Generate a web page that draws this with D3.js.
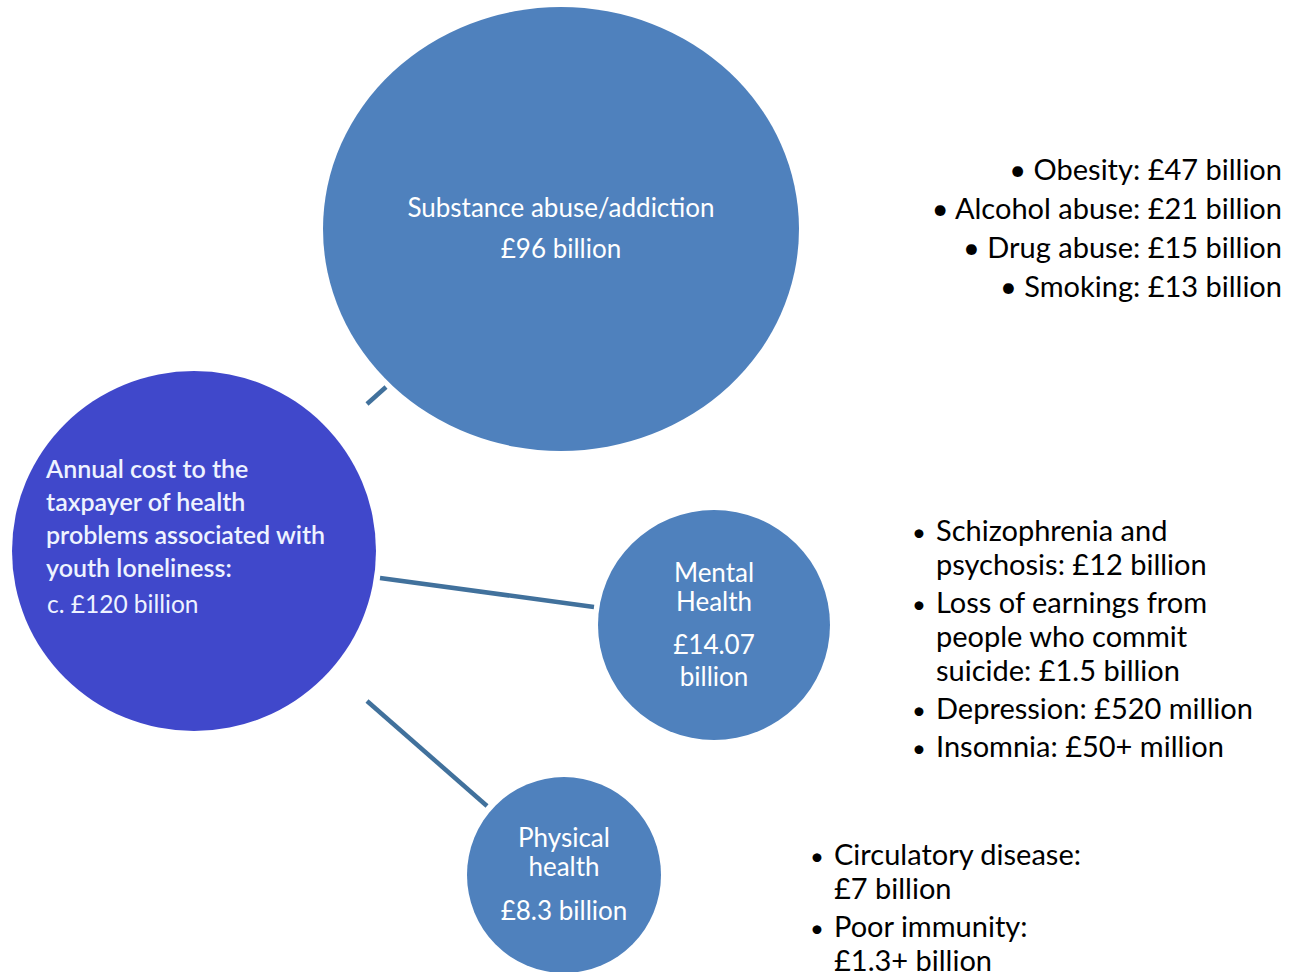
<!DOCTYPE html>
<html>
<head>
<meta charset="utf-8">
<script src="https://cdn.jsdelivr.net/npm/d3@7"></script>
<style>
  body { margin: 0; background: #fff; }
  svg { display: block; }
</style>
</head>
<body>
<svg id="chart"></svg>
<script>
// 数据
const totalLabel = ["Annual cost to the", "taxpayer of health", "problems associated with", "youth loneliness:"];
const totalValue = "c. £120 billion";

const categories = ["Substance abuse/addiction", "Mental Health", "Physical health"];
const categoryLines = [["Substance abuse/addiction"], ["Mental", "Health"], ["Physical", "health"]];
const categoryValues = [["£96 billion"], ["£14.07", "billion"], ["£8.3 billion"]];

const substanceItems = ["Obesity: £47 billion", "Alcohol abuse: £21 billion", "Drug abuse: £15 billion", "Smoking: £13 billion"];
const mentalItems = [["Schizophrenia and", "psychosis: £12 billion"], ["Loss of earnings from", "people who commit", "suicide: £1.5 billion"], ["Depression: £520 million"], ["Insomnia: £50+ million"]];
const physicalItems = [["Circulatory disease:", "£7 billion"], ["Poor immunity:", "£1.3+ billion"]];

// 布局
const width = 1296, height = 972;
const font = "'Lato', 'Open Sans', sans-serif";
const blue = "#4f81bd", darkBlue = "#4048cb", lineColor = "#41719c";

const svg = d3.select("#chart").attr("width", width).attr("height", height);

// 节点位置 (centre, radius)
const hub = { cx: 194, cy: 551, rx: 182, ry: 180 };
const nodes = [
  { cx: 561, cy: 229, rx: 238, ry: 222 },
  { cx: 714, cy: 625, rx: 116, ry: 115 },
  { cx: 564, cy: 875, rx: 97, ry: 98 }
];
// 连接线
const links = [
  [[367, 404], [386, 387]],
  [[380, 578], [594, 607]],
  [[367, 701], [487, 806]]
];

svg.selectAll(".link")
  .data(links)
  .enter()
  .append("line")
  .attr("class", "link")
  .attr("x1", d => d[0][0]).attr("y1", d => d[0][1])
  .attr("x2", d => d[1][0]).attr("y2", d => d[1][1])
  .attr("stroke", lineColor)
  .attr("stroke-width", 4.5);

svg.append("ellipse")
  .attr("cx", hub.cx).attr("cy", hub.cy)
  .attr("rx", hub.rx).attr("ry", hub.ry)
  .attr("fill", darkBlue);

svg.selectAll(".node")
  .data(categories)
  .enter()
  .append("ellipse")
  .attr("class", "node")
  .attr("cx", (d, i) => nodes[i].cx).attr("cy", (d, i) => nodes[i].cy)
  .attr("rx", (d, i) => nodes[i].rx).attr("ry", (d, i) => nodes[i].ry)
  .attr("fill", blue);

// 中心文字
const hubText = svg.append("g")
  .style("font-family", font)
  .style("fill", "#eef3ff");
hubText.selectAll("text.hub-line")
  .data(totalLabel)
  .enter()
  .append("text")
  .attr("class", "hub-line")
  .attr("x", 46)
  .attr("y", (d, i) => 478 + i * 33)
  .style("font-size", "25px")
  .style("font-weight", 600)
  .text(d => d);
hubText.append("text")
  .attr("x", 47)
  .attr("y", 613)
  .style("font-size", "24.5px")
  .text(totalValue);

// 圆内文字
const labelPos = [
  { names: [217], values: [258], size: 26 },
  { names: [582, 611], values: [654, 686], size: 26 },
  { names: [847, 876], values: [920], size: 26 }
];
categories.forEach((c, i) => {
  const g = svg.append("g")
    .style("font-family", font)
    .style("fill", "#fff")
    .attr("text-anchor", "middle");
  categoryLines[i].forEach((t, j) => {
    g.append("text").attr("x", nodes[i].cx).attr("y", labelPos[i].names[j])
      .style("font-size", labelPos[i].size + "px").text(t);
  });
  categoryValues[i].forEach((t, j) => {
    g.append("text").attr("x", nodes[i].cx).attr("y", labelPos[i].values[j])
      .style("font-size", labelPos[i].size + "px").text(t);
  });
});

// 右侧列表
const listFont = "29px";
const subList = svg.append("g").style("font-family", font).style("font-size", listFont).style("fill", "#000");
subList.selectAll("text")
  .data(substanceItems)
  .enter()
  .append("text")
  .attr("x", 1282)
  .attr("y", (d, i) => 180 + i * 39)
  .attr("text-anchor", "end")
  .text(d => "• " + d);

function bulletList(items, bulletX, textX, startY, lineGap, itemGap) {
  const g = svg.append("g").style("font-family", font).style("font-size", listFont).style("fill", "#000");
  let y = startY;
  items.forEach(item => {
    g.append("text").attr("x", bulletX).attr("y", y).style("font-size", "24px").text("•");
    item.forEach((line, j) => {
      g.append("text").attr("x", textX).attr("y", y).text(line);
      if (j < item.length - 1) y += lineGap;
    });
    y += itemGap;
  });
}
bulletList(mentalItems, 912, 936, 541, 34, 38);
bulletList(physicalItems, 810, 834, 865, 34, 38);
</script>
</body>
</html>
